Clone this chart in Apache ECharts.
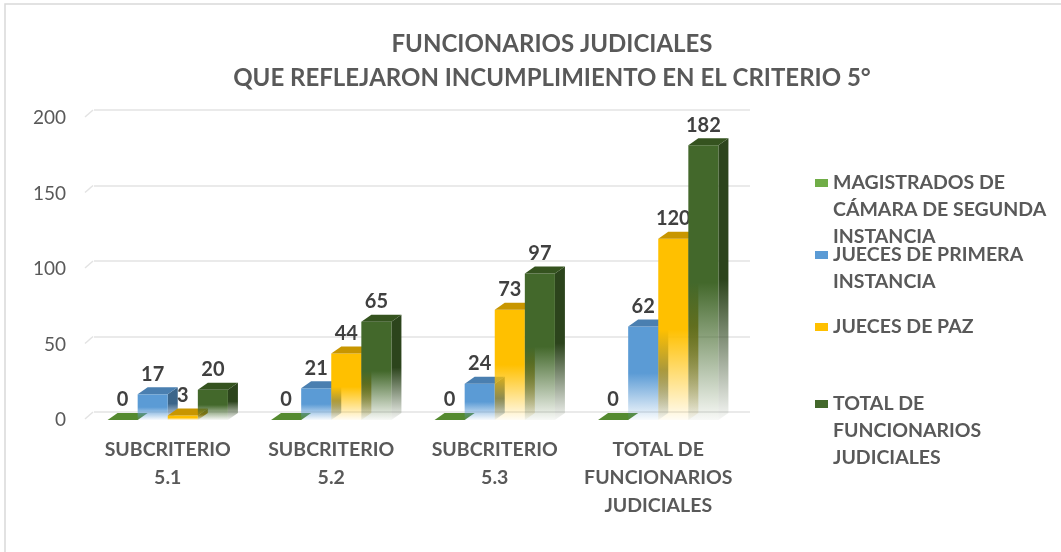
<html>
<head>
    <meta charset="utf-8" />
    <title>Funcionarios judiciales - criterio 5</title>
    <script src="https://cdn.jsdelivr.net/npm/echarts@6/dist/echarts.min.js"></script>
    <style>
        body { margin: 0; background: #fff; }
    </style>
</head>
<body>
    <div id="chart" style="width: 1061px;height:552px;"></div>
    <script type="text/javascript">
        // data
        var categories = ['SUBCRITERIO\n5.1', 'SUBCRITERIO\n5.2', 'SUBCRITERIO\n5.3', 'TOTAL DE\nFUNCIONARIOS\nJUDICIALES'];
        var seriesNames = ['MAGISTRADOS DE\nCÁMARA DE SEGUNDA\nINSTANCIA', 'JUECES DE PRIMERA\nINSTANCIA', 'JUECES DE PAZ', 'TOTAL DE\nFUNCIONARIOS\nJUDICIALES'];
        var magistrados = [0, 0, 0, 0];
        var juecesPrimera = [17, 21, 24, 62];
        var juecesPaz = [3, 44, 73, 120];
        var totalFuncionarios = [20, 65, 97, 182];
        var yTicks = [0, 50, 100, 150, 200];

        var FONT = 'Lato, "Open Sans", sans-serif';
        var DX = 10, DY = 7;   // depth of the 3D boxes

        // colours for each series: legend, top face, rgb of the front (side is a darker shade)
        var looks = [
            { legend: '#70AD47', top: '#558A30', rgb: '91,146,52' },
            { legend: '#5B9BD5', top: '#4A7FB0', rgb: '91,155,213' },
            { legend: '#FFC000', top: '#C89600', rgb: '255,192,0' },
            { legend: '#43682B', top: '#35531F', rgb: '67,104,43' }
        ];

        function fade(rgb) {
            return new echarts.graphic.LinearGradient(0, 0, 0, 1, [
                { offset: 0, color: 'rgba(' + rgb + ',1)' },
                { offset: 0.5, color: 'rgba(' + rgb + ',1)' },
                { offset: 1, color: 'rgba(' + rgb + ',0.04)' }
            ]);
        }

        function box3d(idx) {
            var lk = looks[idx];
            var sideRgb = lk.rgb.split(',').map(function (c) { return Math.round(c * 0.65); }).join(',');
            return function (params, api) {
                var ci = api.value(0), v = api.value(1);
                var base = api.coord([ci, 0]);
                var top = api.coord([ci, v]);
                var bw = api.size([1, 0])[0] * 0.184;
                var x0 = base[0] + (idx - 2) * bw;
                var x1 = x0 + bw;
                var ty = top[1], by = base[1];
                var kids = [];
                if (by - ty > 0.5) {
                    kids.push({
                        type: 'polygon',
                        shape: { points: [[x1, ty], [x1 + DX, ty - DY], [x1 + DX, by - DY], [x1, by]] },
                        style: { fill: fade(sideRgb) }
                    });
                    kids.push({
                        type: 'rect',
                        shape: { x: x0, y: ty, width: bw, height: by - ty },
                        style: { fill: fade(lk.rgb) }
                    });
                }
                kids.push({
                    type: 'polygon',
                    shape: { points: [[x0, ty], [x1, ty], [x1 + DX, ty - DY], [x0 + DX, ty - DY]] },
                    style: { fill: lk.top }
                });
                kids.push({
                    type: 'text',
                    style: {
                        text: String(v), x: x0 + bw / 2, y: ty - DY - 3,
                        align: 'center', verticalAlign: 'bottom',
                        font: 'bold 20px ' + FONT, fill: '#404040'
                    }
                });
                return { type: 'group', children: kids };
            };
        }

        function pairs(arr) {
            return arr.map(function (v, i) { return [i, v]; });
        }

        // little slanted pieces where the back wall gridlines meet the side wall
        function wallSlant(params, api) {
            var p = api.coord([0, api.value(0)]);
            var left = params.coordSys.x;
            return {
                type: 'line',
                shape: { x1: left - 1, y1: p[1] - 1, x2: left + 7, y2: p[1] - 8 },
                style: { stroke: '#e3e3e3', lineWidth: 1.5 }
            };
        }

        var allSeries = [magistrados, juecesPrimera, juecesPaz, totalFuncionarios];
        var series = allSeries.map(function (arr, i) {
            return {
                name: seriesNames[i],
                type: 'custom',
                xAxisIndex: 0, yAxisIndex: 0,
                itemStyle: { color: looks[i].legend },
                renderItem: box3d(i),
                encode: { x: 0, y: 1 },
                data: pairs(arr),
                z: 5 + i
            };
        });
        series.push({
            type: 'custom',
            xAxisIndex: 0, yAxisIndex: 0,
            renderItem: wallSlant,
            encode: { y: 0 },
            data: yTicks.map(function (t) { return [t]; }),
            silent: true,
            z: 1
        });

        // each legend entry sits at its own height, as in the picture;
        // blank lines in front keep the marker on the first line of text
        var legendTops = [115.5, 214.5, 313.5, 336.5];
        var legends = seriesNames.map(function (name, i) {
            var lines = name.split('\n').length;
            return {
                data: [name],
                orient: 'vertical',
                left: 815,
                top: legendTops[i],
                padding: 0,
                icon: 'rect',
                itemWidth: 13,
                itemHeight: 8,
                itemGap: 0,
                selectedMode: false,
                formatter: function (n) { return new Array(lines).join('\n') + n; },
                textStyle: {
                    color: '#595959', fontFamily: FONT, fontWeight: 'bold', fontSize: 19.5,
                    lineHeight: 27
                }
            };
        });

        var chart = echarts.init(document.getElementById('chart'));
        var option = {
            backgroundColor: '#fff',
            animation: false,
            title: {
                text: 'FUNCIONARIOS JUDICIALES\nQUE REFLEJARON INCUMPLIMIENTO EN EL CRITERIO 5°',
                left: 547,
                textAlign: 'center',
                top: 22,
                textStyle: {
                    color: '#595959', fontFamily: FONT, fontWeight: 'bold', fontSize: 24,
                    lineHeight: 34
                }
            },
            legend: legends,
            graphic: [{
                type: 'rect', shape: { x: 5, y: 4, width: 1100, height: 600 },
                style: { fill: 'none', stroke: '#d9d9d9', lineWidth: 1.5 }, silent: true
            }],
            grid: [
                { left: 86, right: 321, top: 118, bottom: 132 },   // front plane: bars and labels
                { left: 94, right: 311, top: 110, bottom: 140 }    // back wall: gridlines
            ],
            xAxis: [{
                type: 'category', gridIndex: 0, data: categories,
                axisLine: { show: false }, axisTick: { show: false },
                axisLabel: {
                    interval: 0, margin: 16, color: '#595959', fontFamily: FONT,
                    fontWeight: 'bold', fontSize: 19.5, lineHeight: 28
                }
            }, {
                type: 'category', gridIndex: 1, data: categories, show: false
            }],
            yAxis: [{
                type: 'value', gridIndex: 0, min: 0, max: 200, interval: 50,
                axisLine: { show: false }, axisTick: { show: false },
                splitLine: { show: false },
                axisLabel: { margin: 20, color: '#595959', fontFamily: FONT, fontSize: 19 }
            }, {
                type: 'value', gridIndex: 1, min: 0, max: 200, interval: 50,
                axisLine: { show: false }, axisTick: { show: false }, axisLabel: { show: false },
                splitLine: { lineStyle: { color: '#e3e3e3', width: 1.5 } }
            }],
            series: series
        };
        option && chart.setOption(option);
    </script>
</body>
</html>
